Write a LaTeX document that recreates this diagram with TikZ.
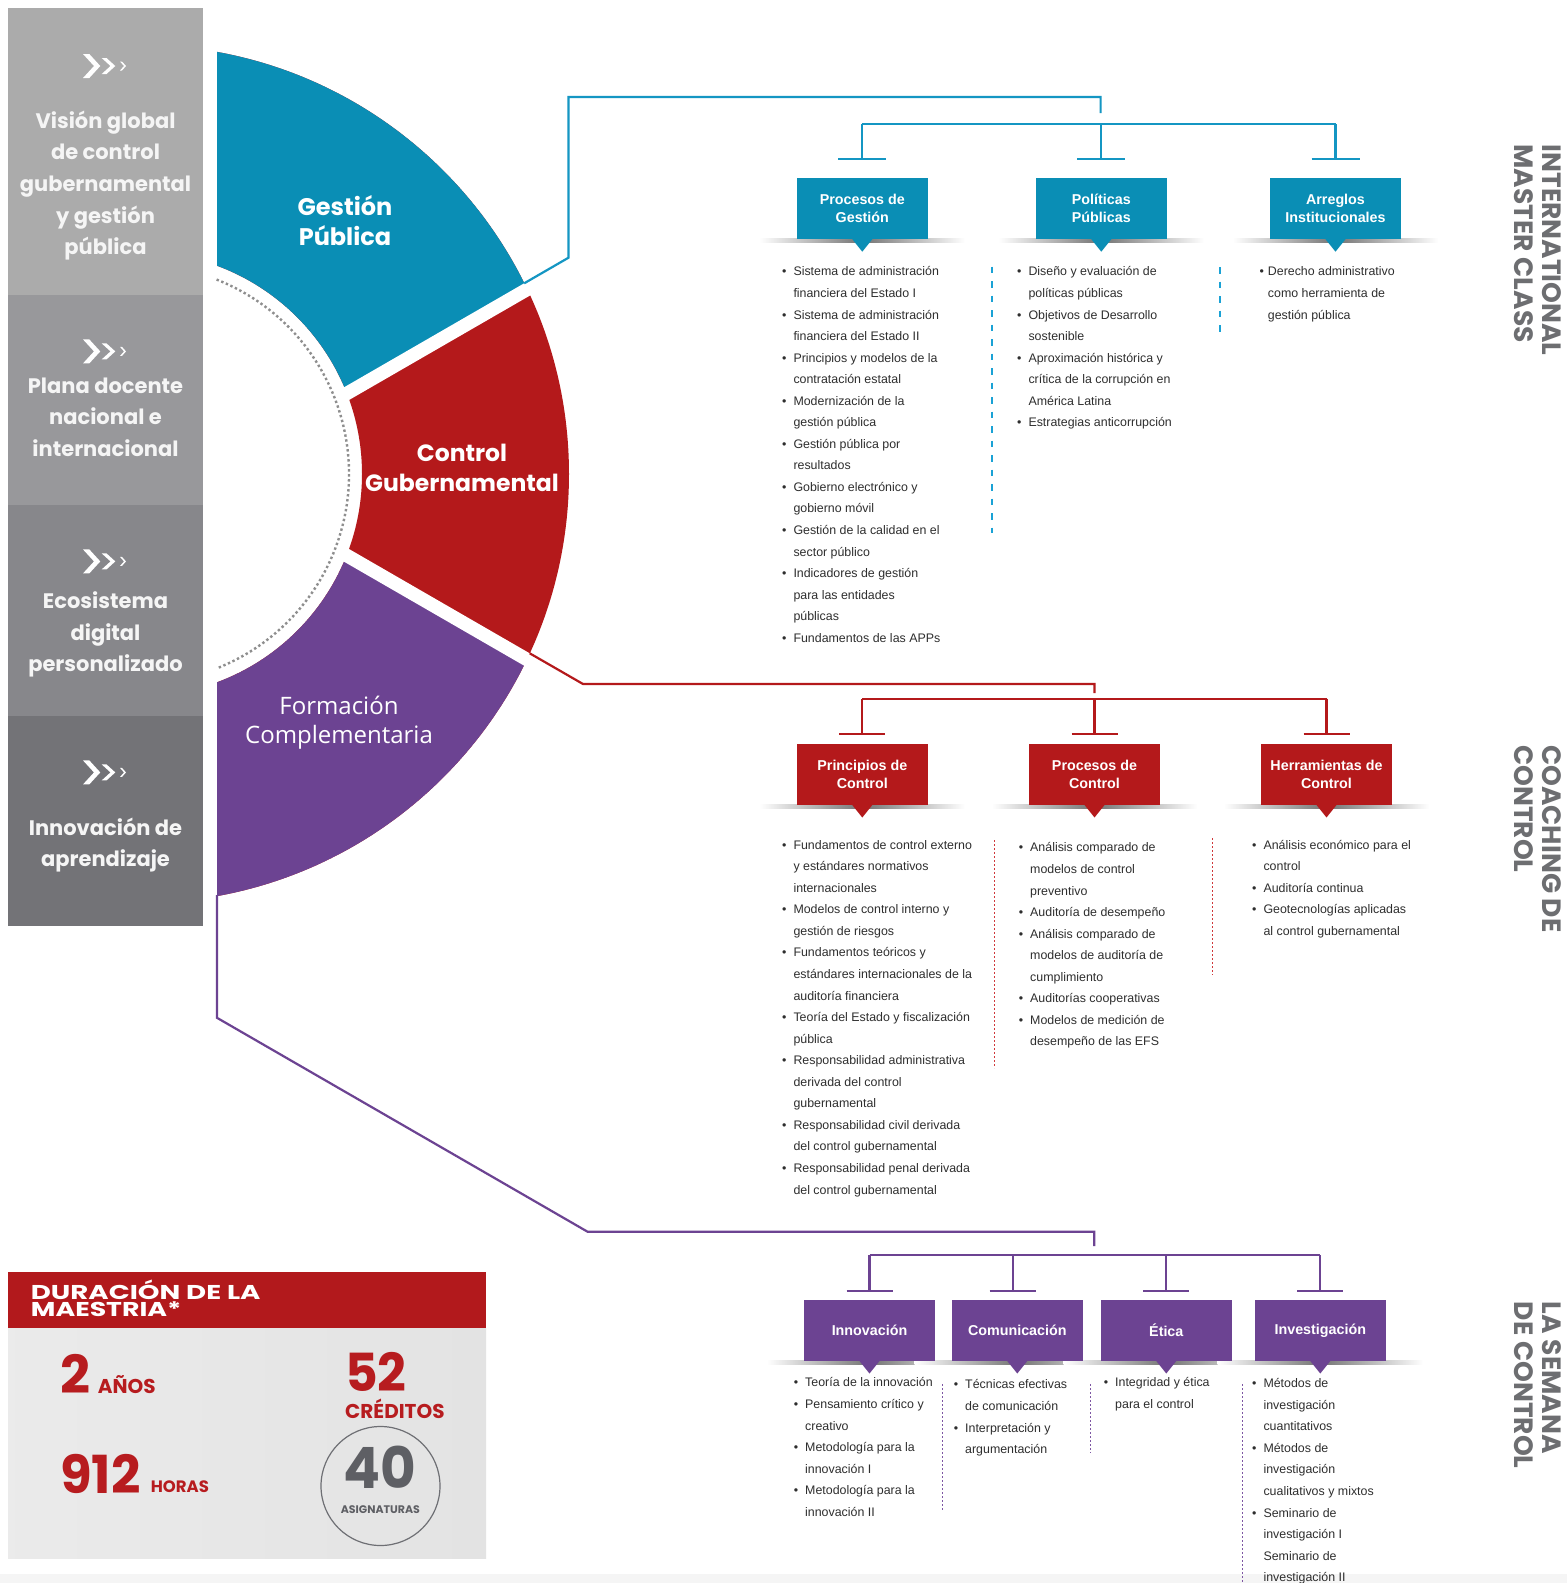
\documentclass[tikz,border=0pt]{standalone}
\usepackage{graphicx}
\usepackage{fontspec}
\setmainfont{Liberation Sans}
\newfontfamily\pop{Poppins}
\newfontfamily\osans{Open Sans}
\usetikzlibrary{calc}
\definecolor{gpblue}{HTML}{0A8EB5}
\definecolor{cgred}{HTML}{B4191B}
\definecolor{fcpurple}{HTML}{6C4392}
\definecolor{lineblue}{HTML}{1496C3}
\definecolor{dashblue}{HTML}{1AA2D5}
\definecolor{dotred}{HTML}{D0383A}
\definecolor{dotpur}{HTML}{7D56A3}
\definecolor{pan1}{HTML}{ABABAB}
\definecolor{pan2}{HTML}{98989B}
\definecolor{pan3}{HTML}{87878B}
\definecolor{pan4}{HTML}{737377}
\definecolor{txt}{HTML}{2E2E2E}
\definecolor{tgray}{HTML}{6D6E71}
\definecolor{dotgray}{HTML}{8E8E8E}
\definecolor{hdrred}{HTML}{B2191C}
\definecolor{numred}{HTML}{B71C1F}
\definecolor{numgray}{HTML}{5E5F64}
\newcommand\firstl{\rule{0pt}{13pt}}
\newcommand\blt{\makebox[0pt][r]{\textbullet\hspace{7pt}}}
\newcommand\blts{\makebox[0pt][r]{\textbullet\hspace{4pt}}}
\newcommand\mychev[2]{%
\begin{scope}[shift={(#1,#2)}]
\fill[white] (0,-12) -- (6.3,-12) -- (17.3,0) -- (6.3,12) -- (0,12) -- (11,0) -- cycle;
\fill[white] (18.7,-8) -- (23.5,-8) -- (32.3,0) -- (23.5,8) -- (18.7,8) -- (27.5,0) -- cycle;
\fill[white] (37,-4.5) -- (39,-4.5) -- (43,0) -- (39,4.5) -- (37,4.5) -- (41,0) -- cycle;
\end{scope}}
\newcommand\mytail[2]{\fill[#2] ($(#1.south)+(-10,0)$) -- ($(#1.south)+(10,0)$) -- ($(#1.south)+(0,12.5)$) -- cycle;}
\newcommand\myshad[1]{\shade[left color=white, right color=white, middle color=black!55] ($(#1.south west)+(-37,-1)$) rectangle ($(#1.south east)+(37,3.5)$);}
\tikzset{
  panel/.style={text=white!96!black, align=center, inner sep=0, font=\pop\bfseries\fontsize{21}{31.6}\selectfont},
  seclab/.style={text=white, align=center, inner sep=0, font=\pop\bfseries\fontsize{24}{29.3}\selectfont},
  cbox/.style={rectangle, minimum width=131, minimum height=61, inner sep=0, text=white, align=center, font=\bfseries\fontsize{14.3}{17.5}\selectfont},
  lst/.style={anchor=north west, inner sep=0, align=left, text=txt, font=\fontsize{12.4}{21.55}\selectfont},
  lstp/.style={lst, font=\fontsize{12.4}{21.6}\selectfont},
  conn/.style={line width=2.2, line cap=butt, line join=miter},
  vtitle/.style={rotate=-90, anchor=north west, inner sep=0, align=left, text=tgray, font=\pop\bfseries\fontsize{26.5}{28}\selectfont},
  bignum/.style={anchor=base west, inner sep=0, text=numred, font=\pop\bfseries\fontsize{52.5}{52.5}\selectfont},
  unit/.style={anchor=base west, inner sep=0, text=numred, font=\pop\bfseries\fontsize{20}{20}\selectfont}
}
\begin{document}
\begin{tikzpicture}[x=1pt,y=-1pt]
\useasboundingbox (0,0) rectangle (1567,1583);
\fill[white] (0,0) rectangle (1567,1583);
\fill[black!4] (0,1574) rectangle (1567,1583);
% left panels
\fill[pan1] (8,8) rectangle (203,295);
\fill[pan2] (8,295) rectangle (203,505);
\fill[pan3] (8,505) rectangle (203,716);
\fill[pan4] (8,716) rectangle (203,926);
\mychev{83}{66}
\mychev{83}{351.4}
\mychev{83}{561.4}
\mychev{83}{772.4}
\node[panel] (p1) at (105.5,185.5) {Visión global\\de control\\gubernamental\\y gestión\\pública};
\node[panel] (p2) at (105.5,417) {Plana docente\\nacional e\\internacional};
\node[panel] (p3) at (105.5,634.5) {Ecosistema\\digital\\personalizado};
\node[panel] (p4) at (105.5,845) {Innovación de\\aprendizaje};
% fan
\begin{scope}
  \clip (217,0) rectangle (800,1000);
  \fill[cgred, even odd rule] (140,474) circle[radius=429] (140,474) circle[radius=222];
  \begin{scope}
    \clip (206.5,474.5) -- ++(-30:1000) -- (1500,-1000) -- (206.5,-1000) -- cycle;
    \fill[gpblue, even odd rule] (140,474) circle[radius=429] (140,474) circle[radius=222];
  \end{scope}
  \begin{scope}
    \clip (206.5,474.5) -- ++(30:1000) -- (1500,2000) -- (206.5,2000) -- cycle;
    \fill[fcpurple, even odd rule] (140,474) circle[radius=429] (140,474) circle[radius=222];
  \end{scope}
  \begin{scope}
    \clip (140,474) circle[radius=430];
    \draw[white, line width=13.5] (206.5,474.5) -- ++(-30:500);
    \draw[white, line width=13.5] (206.5,474.5) -- ++(30:500);
  \end{scope}
\end{scope}
\draw[dotgray, line width=2.4, dash pattern=on 2.4 off 2.6] (140,474) ++(-68.5:209) arc[start angle=-68.5, end angle=68.5, radius=209];
\node[seclab] (sgp) at (345,220.7) {Gestión\\Pública};
\node[seclab, font=\pop\bfseries\fontsize{23.5}{29.3}\selectfont] (scg) at (462,468) {Control\\Gubernamental};
\node[text=white, align=center, inner sep=0, font=\osans\fontsize{24}{29.2}\selectfont] (sfc) at (339,722.5) {Formación\\Complementaria};
% boxes
\node[cbox] (pg) at (862.3,208.5) {};
\node[cbox] (pp) at (1101.3,208.5) {};
\node[cbox] (ai) at (1335.5,208.5) {};
\node[cbox] (pc) at (862.3,774.3) {};
\node[cbox] (pdc) at (1094.5,774.3) {};
\node[cbox] (hc) at (1326.5,774.3) {};
\node[cbox] (inn) at (869.5,1330.3) {};
\node[cbox] (com) at (1017.3,1330.3) {};
\node[cbox] (eti) at (1166.3,1330.3) {};
\node[cbox] (inv) at (1320.3,1330.3) {};
\foreach \b in {pg,pp,ai,pc,pdc,hc,inn,com,eti,inv}{\myshad{\b}}
\node[cbox, fill=gpblue] at (pg) {Procesos de\\Gestión};
\node[cbox, fill=gpblue] at (pp) {Políticas\\Públicas};
\node[cbox, fill=gpblue] at (ai) {Arreglos\\Institucionales};
\node[cbox, fill=cgred] at (pc) {Principios de\\Control};
\node[cbox, fill=cgred] at (pdc) {Procesos de\\Control};
\node[cbox, fill=cgred] at (hc) {Herramientas de\\Control};
\node[cbox, fill=fcpurple] at (inn) {Innovación};
\node[cbox, fill=fcpurple] at (com) {Comunicación};
\node[cbox, fill=fcpurple] at (eti) {Ética};
\node[cbox, fill=fcpurple] at (inv) {Investigación};
\foreach \b in {pg,pp,ai}{\mytail{\b}{gpblue}}
\foreach \b in {pc,pdc,hc}{\mytail{\b}{cgred}}
\foreach \b in {inn,com,eti,inv}{\mytail{\b}{fcpurple}}
% connectors blue
\coordinate (gpc) at (524.2,283.3);
\coordinate (gpk) at (568.5,257.7);
\coordinate (gpt) at (568.5,97);
\coordinate (gph) at (1100.6,97);
\coordinate (gpe) at (1100.6,113);
\coordinate (busg) at (1100.6,124.2);
\draw[conn, lineblue] (gpc) -- (gpk) -- (gpt) -- (gph) -- (gpe);
\foreach \b in {pg,pp,ai}{\path (\b.north) ++(0,-18.5) coordinate (t\b);}
\draw[conn, lineblue] (tpg |- busg) -- (tai |- busg);
\foreach \b in {pg,pp,ai}{\draw[conn, lineblue] (t\b |- busg) -- (t\b); \draw[conn, lineblue] ($(t\b)+(-24,0)$) -- ($(t\b)+(24,0)$);}
% connectors red
\coordinate (cgc) at (529.7,653.3);
\coordinate (cgk) at (583,684);
\coordinate (cgh) at (1094.5,684);
\coordinate (cge) at (1094.5,693);
\coordinate (busc) at (1094.5,698.7);
\draw[conn, cgred] (cgc) -- (cgk) -- (cgh) -- (cge);
\foreach \b in {pc,pdc,hc}{\path (\b.north) ++(0,-10) coordinate (t\b);}
\draw[conn, cgred] (tpc |- busc) -- (thc |- busc);
\foreach \b in {pc,pdc,hc}{\draw[conn, cgred] (t\b |- busc) -- (t\b); \draw[conn, cgred] ($(t\b)+(-23,0)$) -- ($(t\b)+(23,0)$);}
% connectors purple
\coordinate (fcc) at (217,895);
\coordinate (fcd) at (217,1017.8);
\coordinate (fck) at (587.7,1231.8);
\coordinate (fch) at (1094.3,1231.8);
\coordinate (fce) at (1094.3,1246);
\coordinate (busf) at (1094.3,1255);
\draw[conn, fcpurple] (fcc) -- (fcd) -- (fck) -- (fch) -- (fce);
\foreach \b in {inn,com,eti,inv}{\path (\b.north) ++(0,-8.3) coordinate (t\b);}
\path (com.north) ++(-4.6,-8.3) coordinate (tcom);
\draw[conn, fcpurple] (tinn |- busf) -- (tinv |- busf);
\foreach \b in {inn,com,eti,inv}{\draw[conn, fcpurple] (t\b |- busf) -- (t\b); \draw[conn, fcpurple] ($(t\b)+(-23,0)$) -- ($(t\b)+(23,0)$);}
% separators
\draw[dashblue, line width=2, dash pattern=on 6.5 off 8] (991.7,266.7) -- (991.7,533);
\draw[dashblue, line width=2, dash pattern=on 6.5 off 8] (1220,267) -- (1220,332);
\draw[dotred, line width=1.5, dash pattern=on 2 off 2] (994.3,840) -- (994.3,1068);
\draw[dotred, line width=1.5, dash pattern=on 2 off 2] (1212.3,838) -- (1212.3,975);
\draw[dotpur, line width=1.5, dash pattern=on 2 off 2] (942.7,1384) -- (942.7,1510);
\draw[dotpur, line width=1.5, dash pattern=on 2 off 2] (1090.7,1384) -- (1090.7,1453);
\draw[dotpur, line width=1.5, dash pattern=on 2 off 2] (1242.7,1384) -- (1242.7,1583);
% lists
\node[lst] (lpg) at (793.3,262.7) {\firstl\blt Sistema de administración\\
financiera del Estado I\\
\blt Sistema de administración\\
financiera del Estado II\\
\blt Principios y modelos de la\\
contratación estatal\\
\blt Modernización de la\\
gestión pública\\
\blt Gestión pública por\\
resultados\\
\blt Gobierno electrónico y\\
gobierno móvil\\
\blt Gestión de la calidad en el\\
sector público\\
\blt Indicadores de gestión\\
para las entidades\\
públicas\\
\blt Fundamentos de las APPs};
\node[lst] (lpp) at (1028.3,262.7) {\firstl\blt Diseño y evaluación de\\
políticas públicas\\
\blt Objetivos de Desarrollo\\
sostenible\\
\blt Aproximación histórica y\\
crítica de la corrupción en\\
América Latina\\
\blt Estrategias anticorrupción};
\node[lst] (lai) at (1267.7,262.7) {\firstl\blts Derecho administrativo\\
como herramienta de\\
gestión pública};
\node[lst] (lpc) at (793.3,836) {\firstl\blt Fundamentos de control externo\\
y estándares normativos\\
internacionales\\
\blt Modelos de control interno y\\
gestión de riesgos\\
\blt Fundamentos teóricos y\\
estándares internacionales de la\\
auditoría financiera\\
\blt Teoría del Estado y fiscalización\\
pública\\
\blt Responsabilidad administrativa\\
derivada del control\\
gubernamental\\
\blt Responsabilidad civil derivada\\
del control gubernamental\\
\blt Responsabilidad penal derivada\\
del control gubernamental};
\node[lst] (lpdc) at (1030,838.7) {\firstl\blt Análisis comparado de\\
modelos de control\\
preventivo\\
\blt Auditoría de desempeño\\
\blt Análisis comparado de\\
modelos de auditoría de\\
cumplimiento\\
\blt Auditorías cooperativas\\
\blt Modelos de medición de\\
desempeño de las EFS};
\node[lst] (lhc) at (1263.3,836) {\firstl\blt Análisis económico para el\\
control\\
\blt Auditoría continua\\
\blt Geotecnologías aplicadas\\
al control gubernamental};
\node[lstp] (linn) at (805,1373.7) {\firstl\blt Teoría de la innovación\\
\blt Pensamiento crítico y\\
creativo\\
\blt Metodología para la\\
innovación I\\
\blt Metodología para la\\
innovación II};
\node[lstp] (lcom) at (965,1375.7) {\firstl\blt Técnicas efectivas\\
de comunicación\\
\blt Interpretación y\\
argumentación};
\node[lstp] (leti) at (1115,1373.7) {\firstl\blt Integridad y ética\\
para el control};
\node[lstp] (linv) at (1263.3,1374.3) {\firstl\blt Métodos de\\
investigación\\
cuantitativos\\
\blt Métodos de\\
investigación\\
cualitativos y mixtos\\
\blt Seminario de\\
investigación I\\
Seminario de\\
investigación II};
% vertical titles
\node[vtitle] (vt1) at (1562,144.4) {INTERNATIONAL\\MASTER CLASS};
\node[vtitle] (vt2) at (1561.5,745) {COACHING DE\\CONTROL};
\node[vtitle] (vt3) at (1562,1301.7) {LA SEMANA\\DE CONTROL};
% duration box
\shade[left color=black!8, right color=black!11] (8,1328) rectangle (486,1558);
\fill[hdrred] (8,1272) rectangle (486,1328);
\node[anchor=base west, inner sep=0, text=white, font=\pop\bfseries\fontsize{20}{20}\selectfont] (d1) at (30.7,1299) {\scalebox{1.38}[1]{DURACIÓN DE LA}};
\node[anchor=base west, inner sep=0, text=white, font=\pop\bfseries\fontsize{20}{20}\selectfont] (d2) at (30.7,1316.5) {\scalebox{1.34}[1]{MAESTRIA*}};
\node[bignum] (n2) at (60,1393.3) {2};
\node[unit] (u2) at (97.7,1393.3) {AÑOS};
\node[bignum] (n52) at (345,1391) {\scalebox{0.96}[1]{52}};
\node[unit] (u52) at (345,1418) {CRÉDITOS};
\node[bignum] (n912) at (60,1493.3) {\scalebox{0.98}[1]{912}};
\node[unit, font=\pop\bfseries\fontsize{16.5}{16.5}\selectfont] (u912) at (150.7,1492.3) {HORAS};
\node[circle, draw=numgray!90, line width=1.2, minimum size=119, inner sep=0] (circ) at (380.5,1486) {};
\node[anchor=base, inner sep=0, text=numgray, font=\pop\bfseries\fontsize{57}{57}\selectfont] (n40) at (379.7,1488.5) {\scalebox{0.96}[1]{40}};
\node[anchor=base, inner sep=0, text=numgray, font=\pop\bfseries\fontsize{11}{11}\selectfont] (u40) at (380.4,1513.5) {ASIGNATURAS};
\end{tikzpicture}
\end{document}
